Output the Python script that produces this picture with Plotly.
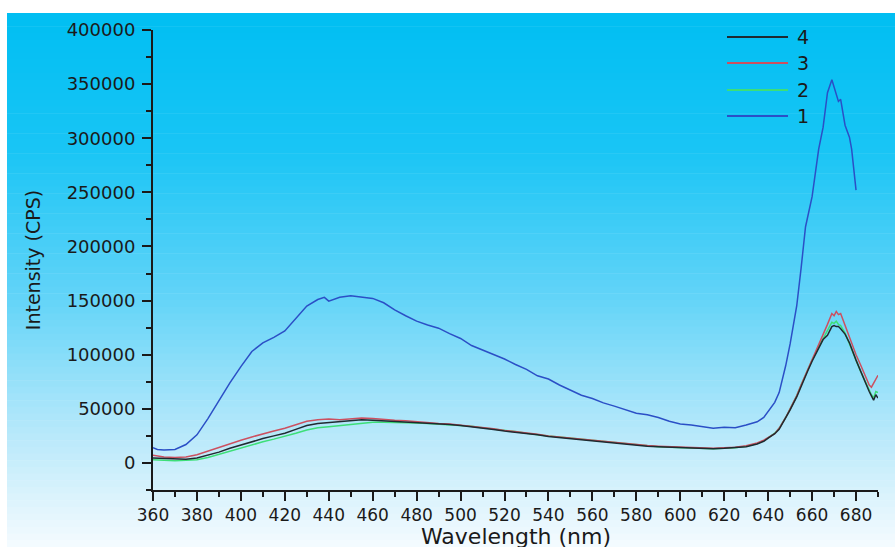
import plotly.graph_objects as go

# ---------------- data ----------------
wl_1 = [360, 362, 365, 370, 375, 380, 385, 390, 395, 400, 405, 410, 415, 420, 425, 430, 435, 438, 440,
        445, 450, 455, 460, 465, 470, 475, 480, 485, 490, 495, 500, 505, 510, 515, 520, 525, 530, 535,
        540, 545, 550, 555, 560, 565, 570, 575, 580, 585, 590, 595, 600, 605, 610, 615, 620, 625, 630,
        635, 638, 640, 643, 645, 648, 650, 653, 655, 657, 660, 663, 665, 667, 669, 670, 672, 673, 675,
        677, 678, 680]
int_1 = [14000, 12500, 12000, 12500, 17000, 26000, 41000, 58000, 74000, 89000, 103000, 111000, 116000,
         122000, 134000, 145000, 151000, 153000, 149500, 153000, 154500, 153500, 152000, 148000, 141500,
         136000, 131000, 127500, 124500, 119500, 115000, 108500, 104500, 100500, 96000, 91000, 86500,
         80500, 77500, 72000, 67000, 62500, 59500, 55500, 52500, 49000, 46000, 44500, 42000, 38500,
         36000, 35000, 33500, 32000, 33000, 32500, 35000, 38000, 42000, 48000, 56000, 65000, 90000,
         110000, 145000, 180000, 218000, 246000, 290000, 310000, 342000, 354000, 348000, 334000,
         336000, 312000, 301000, 290000, 252000]

wl_low = [360, 365, 370, 375, 380, 385, 390, 395, 400, 405, 410, 415, 420, 425, 430, 435, 440, 445,
          450, 455, 460, 465, 470, 475, 480, 485, 490, 495, 500, 505, 510, 515, 520, 525, 530, 535,
          540, 545, 550, 555, 560, 565, 570, 575, 580, 585, 590, 595, 600, 605, 610, 615, 620, 625,
          630, 635, 638, 640, 643, 645, 648, 650, 653, 655, 658, 660, 663, 665, 667, 669, 670, 671,
          672, 673, 675, 677, 680, 682, 684, 686, 687, 688, 689, 690]
int_2 = [3000, 2500, 2000, 2500, 3000, 5000, 8000, 11000, 14000, 17000, 19500, 22000, 24500, 27500,
         30500, 32500, 33500, 34500, 36000, 37000, 37500, 37500, 37500, 37500, 37000, 36500, 36000,
         35500, 35000, 34000, 32500, 31500, 30000, 29000, 27500, 26000, 25000, 24000, 23000, 21500,
         20500, 19500, 18500, 17500, 16500, 16000, 15000, 14500, 14000, 14000, 13500, 13000, 13500,
         14000, 15500, 18000,
         20500, 23000, 27500, 32000, 42000, 50000, 62000, 72000, 86000, 95000, 107000, 115000, 122000,
         130000, 129000, 131000, 128000, 127000, 120000, 110000, 94000, 85000, 76000, 67000, 63000,
         60000, 66000, 65000]
int_3 = [7000, 5500, 5000, 5500, 7500, 11000, 14000, 17500, 21000, 24000, 27000, 29500, 32000, 35500,
         38500, 40000, 40500, 40000, 40500, 41500, 41000, 40000, 39500, 39000, 38000, 37500, 36500,
         36000, 35000, 34000, 32500, 31500, 30000, 29000, 27500, 26500, 25000, 24000, 23000, 22000,
         20500, 19500, 18500, 17500, 17000, 16000, 15500, 15000, 14500, 14000, 14000, 13500, 14000,
         14500, 16000, 18500,
         21000, 23500, 27000, 32000, 42000, 50000, 62000, 72000, 86000, 95000, 108000, 117000, 128000,
         138000, 136000, 140000, 137000, 138000, 127000, 116000, 100000, 91000, 82000, 72000, 70000,
         74000, 77000, 81000]
int_4 = [4500, 4000, 3500, 3500, 4500, 7000, 10000, 13500, 16500, 20000, 22500, 25000, 27500, 31000,
         34500, 36500, 37500, 38500, 39000, 40000, 39500, 39000, 38500, 38000, 37500, 37000, 36000,
         35500, 34500, 33500, 32000, 31000, 29500, 28500, 27000, 26000, 24500, 23500, 22500, 21500,
         20000, 19000, 18000, 17000, 16500, 15500, 15000, 14500, 14000, 13500, 13500, 13000, 13500,
         14000, 15000, 17500,
         20000, 23000, 27000, 31000, 41000, 49000, 61000, 71000, 85000, 94000, 106000, 114000, 118000,
         126000, 127000, 126000, 126000, 124000, 119000, 111000, 95000, 85000, 75000, 66000, 62000,
         58000, 63000, 60000]

series_names = ["1", "2", "3", "4"]
x_ticks = [360, 380, 400, 420, 440, 460, 480, 500, 520, 540, 560, 580, 600, 620, 640, 660, 680]
y_ticks = [0, 50000, 100000, 150000, 200000, 250000, 300000, 350000, 400000]
x_title = "Wavelength (nm)"
y_title = "Intensity (CPS)"

# ---------------- style ----------------
colors = {"1": "#2b4fc6", "2": "#3ddf78", "3": "#cc5060", "4": "#1f2a30"}
W, H = 895, 547
L, R, T, B = 153, 17, 30, 57
PW, PH = W - L - R, H - T - B
FONT = "DejaVu Sans"
TXT = "#1a1a1a"


def px_to_paper_x(px):
    return (px - L) / PW


def px_to_paper_y(py):
    return (H - B - py) / PH


fig = go.Figure()
data = [(wl_1, int_1), (wl_low, int_2), (wl_low, int_3), (wl_low, int_4)]
for name, (xs, ys) in zip(series_names, data):
    fig.add_trace(go.Scatter(x=xs, y=ys, mode="lines", name=name, showlegend=False,
                             line=dict(color=colors[name], width=1.5)))

# background gradient (cyan -> white)
stops = [(13, (0, 190, 242)), (150, (25, 197, 245)), (300, (100, 212, 248)),
         (420, (175, 230, 250)), (490, (215, 242, 252)), (547, (245, 251, 255))]


def col_at(py):
    for (y0, c0), (y1, c1) in zip(stops[:-1], stops[1:]):
        if y0 <= py <= y1:
            t = (py - y0) / (y1 - y0)
            return tuple(round(a + (b - a) * t) for a, b in zip(c0, c1))
    return stops[-1][1]


shapes = []
n = 80
top, bot = 13, 547
for i in range(n):
    y0 = top + (bot - top) * i / n
    y1 = top + (bot - top) * (i + 1) / n + 0.5
    c = col_at((y0 + y1) / 2)
    shapes.append(dict(type="rect", xref="paper", yref="paper", layer="below",
                       x0=px_to_paper_x(7), x1=px_to_paper_x(W + 2),
                       y0=px_to_paper_y(y1), y1=px_to_paper_y(y0),
                       fillcolor="rgb(%d,%d,%d)" % c, line=dict(width=0)))

# legend drawn as lines + labels (4,3,2,1 from top)
annotations = []
leg_y = {"4": 37, "3": 63, "2": 90, "1": 116}
for name in ["4", "3", "2", "1"]:
    yp = px_to_paper_y(leg_y[name])
    shapes.append(dict(type="line", xref="paper", yref="paper",
                       x0=px_to_paper_x(727), x1=px_to_paper_x(788), y0=yp, y1=yp,
                       line=dict(color=colors[name], width=1.8)))
    annotations.append(dict(xref="paper", yref="paper", x=px_to_paper_x(795), y=yp,
                            text=name, showarrow=False, xanchor="left", yanchor="middle",
                            font=dict(family=FONT, size=19, color=TXT)))

# x-axis title (sits low, as in the reference)
annotations.append(dict(xref="paper", yref="paper", x=0.5, y=px_to_paper_y(522),
                        text=x_title, showarrow=False, xanchor="center", yanchor="top",
                        font=dict(family=FONT, size=22, color=TXT)))

axis_common = dict(showline=True, linecolor=TXT, linewidth=2, ticks="outside", ticklen=9,
                   tickwidth=2, tickcolor=TXT, showgrid=False, zeroline=False)

fig.update_layout(
    width=W, height=H, autosize=False,
    margin=dict(l=L, r=R, t=T, b=B, pad=0),
    paper_bgcolor="white", plot_bgcolor="rgba(0,0,0,0)",
    shapes=shapes, annotations=annotations, showlegend=False,
    xaxis=dict(range=[360, 690], tickvals=x_ticks, ticktext=[str(v) for v in x_ticks],
               minor=dict(ticks="outside", ticklen=5, tickwidth=2, tickcolor=TXT, dtick=10, tick0=360),
               tickfont=dict(family=FONT, size=17, color=TXT),
               automargin=False, **axis_common),
    yaxis=dict(range=[-25000, 400000], tickvals=y_ticks, ticktext=[str(v) for v in y_ticks],
               minor=dict(ticks="outside", ticklen=5, tickwidth=2, tickcolor=TXT, dtick=25000, tick0=0),
               tickfont=dict(family=FONT, size=18, color=TXT), ticklabelstandoff=3,
               title=dict(text=y_title, standoff=21,
                          font=dict(family=FONT, size=19, color=TXT)),
               automargin=False, **axis_common),
)

fig.write_html("out.html", config={"displayModeBar": False},
               post_script="document.body.style.margin='0px';")
